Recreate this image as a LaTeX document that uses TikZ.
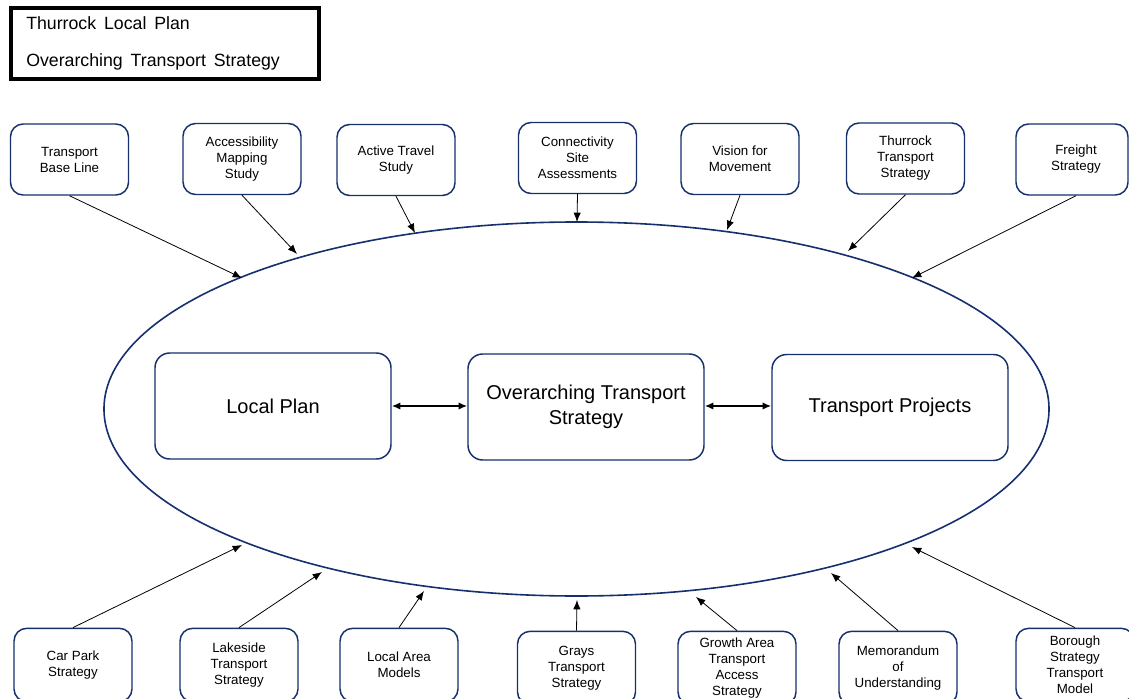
\documentclass[tikz,border=0pt]{standalone}
\usepackage{fontspec}
\setmainfont{Liberation Sans}
\usetikzlibrary{arrows.meta}
\definecolor{navy}{RGB}{22,48,110}
\begin{document}
\begin{tikzpicture}[x=0.75pt,y=-0.75pt,
  smallbox/.style={draw=navy, line width=1.1pt, rounded corners=9.5pt, align=center,
    minimum width=88.5pt, minimum height=53.25pt, inner sep=0pt,
    font=\fontsize{10}{12}\selectfont},
  bigbox/.style={draw=navy, line width=1.1pt, rounded corners=11pt, align=center,
    minimum width=177pt, minimum height=79.5pt, inner sep=0pt,
    font=\fontsize{15}{18.75}\selectfont},
  feed/.style={-{Latex[length=7pt,width=5.5pt]}, line width=0.6pt, black},
  dbl/.style={{Latex[length=6.5pt,width=5.5pt]}-{Latex[length=6.5pt,width=5.5pt]}, line width=1.4pt, black},
  titletext/.style={anchor=base west, font=\fontsize{13.3}{15}\selectfont, inner sep=0pt}
]
\path[use as bounding box, clip] (0,0) rectangle (1129,699);
\fill[white] (0,0) rectangle (1129,699);

% title box
\node[draw=black, line width=3pt, minimum width=231pt, minimum height=53pt, inner sep=0pt] (title) at (165,43.5) {};
\node[titletext] (t1) at (26,30) {Thurrock\ \,Local\ \,Plan};
\node[titletext] (t2) at (26,67) {Overarching\ \,Transport\ \,Strategy};

% ellipse
\draw[navy, line width=1.2pt] (576.5,409) ellipse [x radius=354.4pt, y radius=140.25pt];

% central boxes
\node[bigbox] (lp) at (273,406) {Local Plan};
\node[bigbox] (ots) at (586,407) {Overarching Transport\\Strategy};
\node[bigbox] (tp) at (890,407.5) {Transport Projects};
\draw[dbl] (lp.east) -- (lp.east -| ots.west);
\draw[dbl] (ots.east |- lp.east) -- (lp.east -| tp.west);

% top boxes
\node[smallbox] (a1) at (69.5,159.5) {Transport\\Base Line};
\node[smallbox] (a2) at (242,159) {Accessibility\\Mapping\\Study};
\node[smallbox] (a3) at (396,160) {Active Travel\\Study};
\node[smallbox] (a4) at (577.5,158) {Connectivity\\Site\\Assessments};
\node[smallbox] (a5) at (740,159) {Vision for\\Movement};
\node[smallbox] (a6) at (905.5,158.5) {Thurrock\\Transport\\Strategy};
\node[smallbox, minimum width=84pt] (a7) at (1072,159.5) {\hspace*{6pt}Freight\\\hspace*{6pt}Strategy};

% bottom boxes
\node[smallbox, minimum height=55pt] (b1) at (73,665) {Car Park\\Strategy};
\node[smallbox, minimum height=55pt] (b2) at (239,665) {Lakeside\\Transport\\Strategy};
\node[smallbox, minimum height=55pt] (b3) at (399,665) {Local Area\\Models};
\node[smallbox, minimum height=55pt] (b4) at (576.5,668) {Grays\\Transport\\Strategy};
\node[smallbox, minimum height=55pt] (b5) at (737,668) {Growth Area\\Transport\\Access\\Strategy};
\node[smallbox, minimum height=55pt] (b6) at (898,668) {Memorandum\\of\\Understanding};
\node[smallbox, minimum height=55pt] (b7) at (1075,665) {Borough\\Strategy\\Transport\\Model};

% arrow tips on the ellipse
\coordinate (e1) at (242,278);
\coordinate (e2) at (297,254);
\coordinate (e3) at (415,233);
\coordinate (e4) at (577,222);
\coordinate (e5) at (727,230);
\coordinate (e6) at (848,251);
\coordinate (e7) at (912,278);
\coordinate (f1) at (242,545);
\coordinate (f2) at (322,572);
\coordinate (f3) at (424,591);
\coordinate (f4) at (577,600);
\coordinate (f5) at (696,597);
\coordinate (f6) at (831,573);
\coordinate (f7) at (912,547);

\draw[feed] (a1.south) -- (e1);
\draw[feed] (a2.south) -- (e2);
\draw[feed] (a3.south) -- (e3);
\draw[feed] (a4.south) -- (e4);
\draw[feed] (a5.south) -- (e5);
\draw[feed] (a6.south) -- (e6);
\draw[feed] ([xshift=3pt]a7.south) -- (e7);
\draw[feed] (b1.north) -- (f1);
\draw[feed] (b2.north) -- (f2);
\draw[feed] (b3.north) -- (f3);
\draw[feed] (b4.north) -- (f4);
\draw[feed] (b5.north) -- (f5);
\draw[feed] (b6.north) -- (f6);
\draw[feed] (b7.north) -- (f7);
\end{tikzpicture}
\end{document}
